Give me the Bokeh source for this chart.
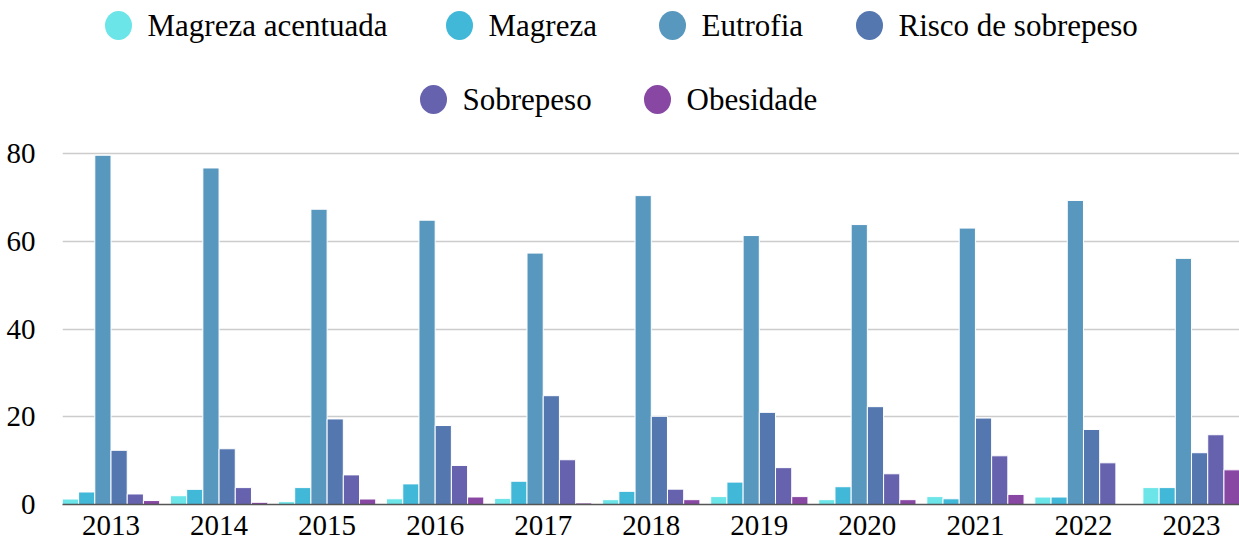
from bokeh.plotting import figure
from bokeh.models import ColumnDataSource, FixedTicker, Range1d
from bokeh.embed import file_html
from bokeh.resources import INLINE
from bokeh.core.properties import value

# ---- data ----
years = [2013, 2014, 2015, 2016, 2017, 2018, 2019, 2020, 2021, 2022, 2023]
series_names = ["Magreza acentuada", "Magreza", "Eutrofia",
                "Risco de sobrepeso", "Sobrepeso", "Obesidade"]
magreza_acentuada = [1.25, 2.0, 0.65, 1.3, 1.4, 1.1, 1.8, 1.1, 1.8, 1.7, 3.85]
magreza = [2.85, 3.45, 3.85, 4.7, 5.3, 3.0, 5.1, 4.05, 1.3, 1.7, 3.85]
eutrofia = [79.6, 76.7, 67.3, 64.8, 57.3, 70.4, 61.3, 63.8, 63.0, 69.3, 56.1]
risco_sobrepeso = [12.35, 12.7, 19.5, 18.0, 24.8, 20.1, 21.0, 22.3, 19.7, 17.1, 11.8]
sobrepeso = [2.4, 3.85, 6.75, 8.9, 10.2, 3.5, 8.4, 7.0, 11.1, 9.5, 15.9]
obesidade = [0.9, 0.5, 1.25, 1.7, 0.35, 1.1, 1.8, 1.1, 2.3, 0.0, 7.9]
y_ticks = [0, 20, 40, 60, 80]

series_values = [magreza_acentuada, magreza, eutrofia,
                 risco_sobrepeso, sobrepeso, obesidade]
colors = ["#6ce5e8", "#42b8d8", "#5898bf", "#5577b0", "#6762ae", "#8747a3"]

FONT = "Liberation Serif"
W, H = 1239, 539
FRAME_LEFT = 62          # px from left where plotting area starts
AXIS_BOTTOM = 504        # px from top where the value 0 sits
PX_PER_UNIT = 4.3875

p = figure(width=W, height=H, toolbar_location=None, output_backend="svg",
           x_range=Range1d(years[0] - 0.449, years[-1] + 0.444),
           y_range=Range1d(0, AXIS_BOTTOM / PX_PER_UNIT),
           min_border_left=FRAME_LEFT, min_border_right=0, min_border_top=0,
           min_border_bottom=H - AXIS_BOTTOM)
p.outline_line_color = None

# pixel-space ranges for the legend placed above the bars
p.extra_x_ranges = {"px": Range1d(FRAME_LEFT, W)}
p.extra_y_ranges = {"py": Range1d(AXIS_BOTTOM, 0)}

n = len(series_values)
pitch = 0.15
for k, (name, vals, col) in enumerate(zip(series_names, series_values, colors)):
    off = (k - (n - 1) / 2) * pitch
    src = ColumnDataSource(dict(x=[y + off for y in years], top=vals))
    p.vbar(x="x", top="top", bottom=0, width=pitch, source=src,
           fill_color=col, line_color="white", line_width=1)

# legend layout: (row y, marker x) per item, in pixels
leg_rows_y = [25, 25, 25, 25, 99, 99]
leg_marker_x = [118, 459, 672, 869, 433, 657]
leg_text_dx = 29
p.ellipse(x=leg_marker_x, y=leg_rows_y, width=27, height=29,
          fill_color=colors, line_color=None,
          x_range_name="px", y_range_name="py")
p.text(x=[x + leg_text_dx for x in leg_marker_x], y=leg_rows_y, text=series_names,
       text_font=value(FONT), text_font_size="31px", text_color="#000000",
       text_baseline="middle", text_align="left",
       x_range_name="px", y_range_name="py")

p.xaxis.ticker = FixedTicker(ticks=years)
p.xaxis.major_label_overrides = {y: str(y) for y in years}
p.yaxis.ticker = FixedTicker(ticks=y_ticks)
p.ygrid.ticker = FixedTicker(ticks=y_ticks)
p.xgrid.grid_line_color = None
p.ygrid.grid_line_color = "#cccccc"
p.ygrid.grid_line_width = 1.5

for ax in (p.xaxis, p.yaxis):
    ax.major_tick_line_color = None
    ax.minor_tick_line_color = None
    ax.major_label_text_font = FONT
    ax.major_label_text_font_size = "29px"
    ax.major_label_text_color = "#000000"
p.xaxis.axis_line_color = "#555555"
p.xaxis.axis_line_width = 1.5
p.xaxis.major_label_standoff = 5
p.yaxis.axis_line_color = None
p.yaxis.major_label_standoff = 21

open("out.html", "w").write(file_html(p, INLINE))
